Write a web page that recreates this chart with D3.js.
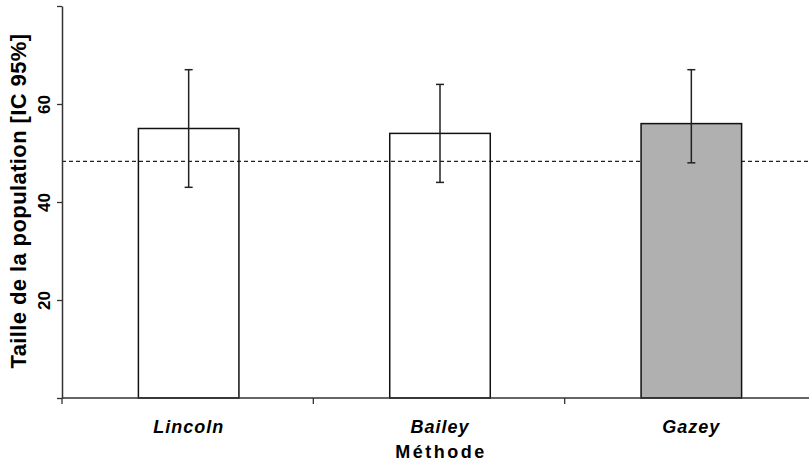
<!DOCTYPE html>
<html>
<head>
<meta charset="utf-8">
<script src="https://cdn.jsdelivr.net/npm/d3@7"></script>
<style>
  body { margin: 0; background: #fff; }
  svg { display: block; font-family: "Liberation Sans", Arial, sans-serif; }
</style>
</head>
<body>
<div id="chart"></div>
<script>
// data
var methods = ["Lincoln", "Bailey", "Gazey"];
var estimates = [55, 54, 56];
var lowerCI = [43, 44, 48];
var upperCI = [67, 64, 67];
var fills = ["none", "none", "#b0b0b0"];
var refValue = 48.3;
var yTicks = [0, 20, 40, 60, 80];
var yLabelled = [20, 40, 60];

var W = 809, H = 463;
var margin = {top: 6, right: -7, bottom: 65, left: 62};
var width = W - margin.left - margin.right,
    height = H - margin.top - margin.bottom;

var svg = d3.select("#chart").append("svg")
    .attr("width", W)
    .attr("height", H);

var g = svg.append("g")
    .attr("transform", "translate(" + margin.left + "," + margin.top + ")");

var x = d3.scaleBand().domain(methods).range([0, width]).paddingInner(0.6).paddingOuter(0.3);
var y = d3.scaleLinear().domain([0, 80]).range([height, 0]);
var step = x.step();

// reference line under the bars
g.append("line")
    .attr("x1", 0).attr("x2", width + 10)
    .attr("y1", y(refValue)).attr("y2", y(refValue))
    .attr("stroke", "#222").attr("stroke-width", 1.2)
    .attr("stroke-dasharray", "4,3");

var data = methods.map(function(m, i) {
    return {m: m, v: estimates[i], lo: lowerCI[i], hi: upperCI[i], fill: fills[i]};
});

g.selectAll(".bar").data(data).enter().append("rect")
    .attr("class", "bar")
    .attr("x", function(d) { return x(d.m) + 1; })
    .attr("width", x.bandwidth())
    .attr("y", function(d) { return y(d.v); })
    .attr("height", function(d) { return y(0) - y(d.v); })
    .attr("fill", function(d) { return d.fill; })
    .attr("stroke", "#111").attr("stroke-width", 1.5);

var cx = function(d) { return x(d.m) + 1 + x.bandwidth() / 2; };
var err = g.selectAll(".err").data(data).enter().append("g").attr("class", "err")
    .attr("stroke", "#222").attr("stroke-width", 1.5);
err.append("line")
    .attr("x1", cx).attr("x2", cx)
    .attr("y1", function(d) { return y(d.lo); })
    .attr("y2", function(d) { return y(d.hi); });
["lo", "hi"].forEach(function(k) {
    err.append("line")
        .attr("x1", function(d) { return cx(d) - 4; })
        .attr("x2", function(d) { return cx(d) + 4; })
        .attr("y1", function(d) { return y(d[k]); })
        .attr("y2", function(d) { return y(d[k]); });
});

// y axis
var yAxis = d3.axisLeft(y).tickValues(yTicks).tickSize(5).tickSizeOuter(0)
    .tickFormat(function(d) { return yLabelled.indexOf(d) >= 0 ? d : ""; });
var ya = g.append("g").call(yAxis);
ya.select(".domain").attr("stroke", "#333").attr("stroke-width", 1.5);
ya.selectAll(".tick line").attr("stroke", "#333").attr("stroke-width", 1.3);
ya.selectAll(".tick text")
    .attr("transform", "rotate(-90)")
    .attr("x", 0).attr("y", -12).attr("dy", 0)
    .attr("text-anchor", "middle")
    .style("font-size", "17px").style("font-weight", "bold").attr("fill", "#000");

// x axis: ticks at band boundaries
var xa = g.append("g").attr("transform", "translate(0," + height + ")");
xa.append("line").attr("x1", 0).attr("x2", width).attr("y1", 0).attr("y2", 0)
    .attr("stroke", "#333").attr("stroke-width", 1.5);
xa.selectAll(".xt").data(methods.map(function(m, i) { return i * step; }).concat([width])).enter().append("line")
    .attr("x1", function(d) { return d; }).attr("x2", function(d) { return d; })
    .attr("y1", 0).attr("y2", 6)
    .attr("stroke", "#333").attr("stroke-width", 1.3);
xa.selectAll(".xl").data(methods).enter().append("text")
    .attr("x", function(d) { return x(d) + 1 + x.bandwidth() / 2; })
    .attr("y", 35)
    .attr("text-anchor", "middle")
    .style("font-size", "18px").style("font-weight", "bold").style("font-style", "italic")
    .style("letter-spacing", "1px")
    .attr("fill", "#000")
    .text(function(d) { return d; });

// axis titles
svg.append("text")
    .attr("x", margin.left + step * 1.5 + 2).attr("y", 458)
    .attr("text-anchor", "middle")
    .style("font-size", "18px").style("font-weight", "bold").style("letter-spacing", "2.5px")
    .attr("fill", "#000")
    .text("Méthode");

svg.append("text")
    .attr("transform", "translate(26," + 201 + ") rotate(-90)")
    .attr("text-anchor", "middle")
    .style("font-size", "22px").style("font-weight", "bold").style("letter-spacing", "0.4px")
    .attr("fill", "#000")
    .text("Taille de la population [IC 95%]");
</script>
</body>
</html>
